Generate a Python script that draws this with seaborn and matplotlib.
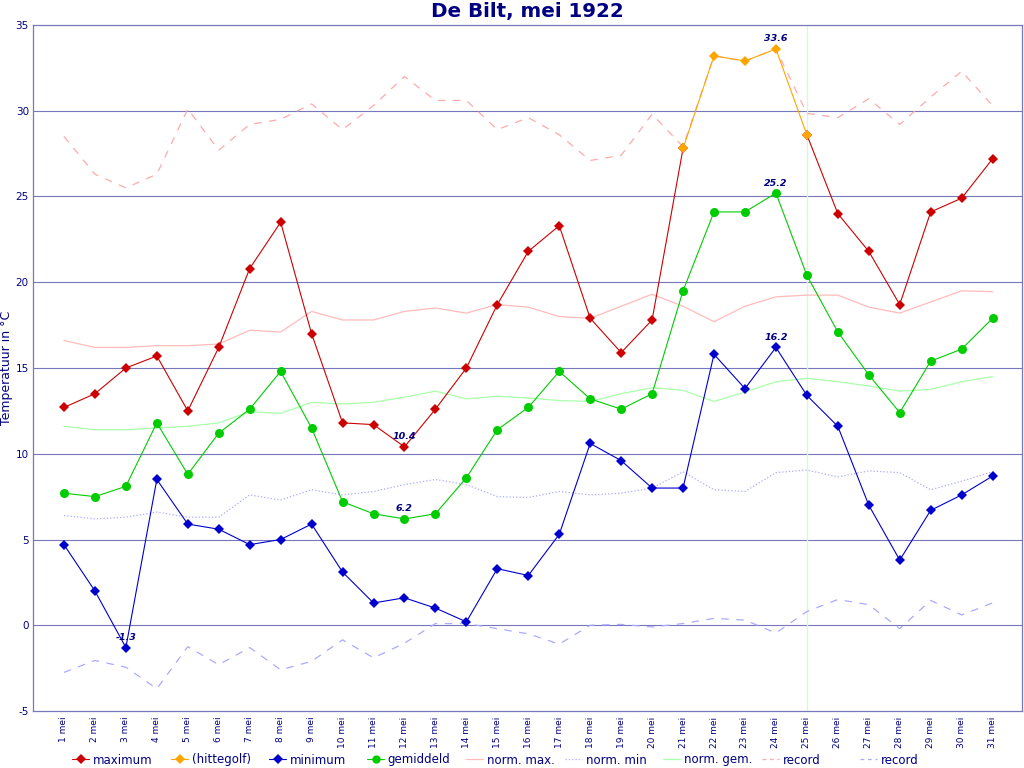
import matplotlib
matplotlib.use("Agg")
import matplotlib.pyplot as plt
from matplotlib.lines import Line2D
import seaborn as sns

# ---------------- data: De Bilt, May 1922 ----------------
days = list(range(1, 32))
day_labels = [f"{d} mei" for d in days]

t_max = [12.7, 13.5, 15.0, 15.7, 12.5, 16.2, 20.8, 23.5, 17.0, 11.8,
         11.7, 10.4, 12.6, 15.0, 18.7, 21.8, 23.3, 17.9, 15.9, 17.8,
         27.8, 33.2, 32.9, 33.6, 28.6, 24.0, 21.8, 18.7, 24.1, 24.9, 27.2]
t_min = [4.7, 2.0, -1.3, 8.5, 5.9, 5.6, 4.7, 5.0, 5.9, 3.1,
         1.3, 1.6, 1.0, 0.2, 3.3, 2.9, 5.3, 10.6, 9.6, 8.0,
         8.0, 15.8, 13.8, 16.2, 13.4, 11.6, 7.0, 3.8, 6.7, 7.6, 8.7]
t_avg = [7.7, 7.5, 8.1, 11.8, 8.8, 11.2, 12.6, 14.8, 11.5, 7.2,
         6.5, 6.2, 6.5, 8.6, 11.4, 12.7, 14.8, 13.2, 12.6, 13.5,
         19.5, 24.1, 24.1, 25.2, 20.4, 17.1, 14.6, 12.4, 15.4, 16.1, 17.9]
hittegolf_days = [21, 22, 23, 24, 25]

norm_max = [16.6, 16.2, 16.2, 16.3, 16.3, 16.4, 17.2, 17.1, 18.3, 17.8,
            17.8, 18.3, 18.5, 18.2, 18.7, 18.55, 18.0, 17.9, 18.6, 19.3,
            18.6, 17.7, 18.6, 19.15, 19.25, 19.25, 18.55, 18.2, 18.85, 19.5, 19.45]
norm_min = [6.4, 6.2, 6.3, 6.6, 6.3, 6.3, 7.6, 7.3, 7.9, 7.6,
            7.8, 8.2, 8.5, 8.2, 7.5, 7.45, 7.8, 7.6, 7.7, 8.0,
            8.95, 7.9, 7.8, 8.9, 9.05, 8.65, 9.0, 8.9, 7.9, 8.4, 8.95]
norm_avg = [11.6, 11.4, 11.4, 11.5, 11.6, 11.8, 12.45, 12.35, 13.0, 12.9,
            13.0, 13.3, 13.65, 13.2, 13.35, 13.25, 13.1, 13.05, 13.5, 13.85,
            13.7, 13.05, 13.6, 14.2, 14.4, 14.2, 13.95, 13.65, 13.75, 14.2, 14.5]
record_max = [28.5, 26.3, 25.5, 26.3, 30.1, 27.7, 29.2, 29.5, 30.4, 28.9,
              30.3, 32.0, 30.6, 30.6, 28.9, 29.6, 28.6, 27.1, 27.4, 29.8,
              27.9, 33.2, 32.9, 33.6, 29.85, 29.6, 30.7, 29.2, 30.8, 32.3, 30.3]
record_min = [-2.75, -2.05, -2.45, -3.7, -1.25, -2.3, -1.3, -2.6, -2.1, -0.85,
              -1.9, -1.05, 0.1, 0.1, -0.2, -0.5, -1.1, 0.0, 0.05, -0.1,
              0.1, 0.4, 0.3, -0.45, 0.8, 1.5, 1.2, -0.2, 1.45, 0.6, 1.3]

# labels for the extremes: (day, value)
extreme_labels = [(24, 33.6), (24, 25.2), (24, 16.2), (12, 10.4), (12, 6.2), (3, -1.3)]

legend_labels = ["maximum", "(hittegolf)", "minimum", "gemiddeld", "norm. max.",
                 "norm. min", "norm. gem.", "record", "record"]

# ---------------- styling ----------------
navy = "#000080"
frame = "#7777bb"
c_max = "#cc0000"
c_hitte = "#ffa500"
c_min = "#0000cc"
c_avg = "#00cc00"
c_nmax = "#ffbbbb"
c_nmin = "#aaaaff"
c_navg = "#aaffaa"
c_rmax = "#ffaaaa"
dash = (0, (6, 6))

sns.set_style("white")
plt.rcParams["font.family"] = ["DejaVu Sans"]

fig = plt.figure(figsize=(10.24, 7.68), dpi=100)
ax = fig.add_axes([33 / 1024, 1 - 711 / 768, 989 / 1024, 686 / 768])

for yv in range(0, 35, 5):
    ax.axhline(yv, color=frame, lw=0.8, zorder=0)
ax.axvline(25, color="#ddf5dd", lw=1, zorder=0)

# norms and records
sns.lineplot(x=days, y=norm_max, color=c_nmax, lw=0.9, ax=ax)
sns.lineplot(x=days, y=norm_min, color=c_nmin, lw=0.9, linestyle=":", ax=ax)
sns.lineplot(x=days, y=norm_avg, color=c_navg, lw=0.9, ax=ax)
sns.lineplot(x=days, y=record_max, color=c_rmax, lw=0.9, linestyle=dash, ax=ax)
sns.lineplot(x=days, y=record_min, color=c_nmin, lw=0.9, linestyle=dash, ax=ax)

# observations
mk = dict(marker="D", markersize=5, markeredgewidth=0, lw=0.8)
h0, h1 = hittegolf_days[0], hittegolf_days[-1]
sns.lineplot(x=days[:h0], y=t_max[:h0], color=c_max, ax=ax, **mk)
sns.lineplot(x=days[h1 - 1:], y=t_max[h1 - 1:], color=c_max, ax=ax, **mk)
sns.lineplot(x=hittegolf_days, y=t_max[h0 - 1:h1], color=c_hitte, ax=ax, **mk)
sns.lineplot(x=days, y=t_min, color=c_min, ax=ax, **mk)
sns.lineplot(x=days, y=t_avg, color=c_avg, marker="o", markersize=6.5,
             markeredgewidth=0, lw=0.8, ax=ax)

for d, v in extreme_labels:
    ax.annotate(f"{v:.1f}", (d, v), xytext=(0, 4), textcoords="offset points",
                ha="center", va="bottom", fontsize=6.8, fontweight="bold",
                fontstyle="italic", color=navy)

ax.set_xlim(0, 31.95)
ax.set_ylim(-5, 35)
ax.set_xticks(days)
ax.set_xticklabels(day_labels, rotation=90, fontsize=6.5, color=navy)
ax.set_yticks(range(-5, 36, 5))
ax.set_yticklabels([str(v) for v in range(-5, 36, 5)], fontsize=7.5, color=navy)
ax.tick_params(axis="x", length=3, color=frame, pad=1)
ax.tick_params(axis="y", length=0, pad=3)
for s in ax.spines.values():
    s.set_color(frame)
    s.set_linewidth(0.9)
ax.set_xlabel("")
ax.set_ylabel("Temperatuur in °C", fontsize=9, color=navy, va="center")
ax.yaxis.set_label_coords((6.5 - 33) / 989, 0.5)
fig.text(527.5 / 1024, 1 - 11 / 768, "De Bilt, mei 1922", ha="center", va="center",
         fontsize=14.3, fontweight="bold", color=navy)

# legend: one entry per slot, spaced like the reference
handles = [
    Line2D([], [], color=c_max, marker="D", markersize=5, markeredgewidth=0, lw=0.8),
    Line2D([], [], color=c_hitte, marker="D", markersize=5, markeredgewidth=0, lw=0.8),
    Line2D([], [], color=c_min, marker="D", markersize=5, markeredgewidth=0, lw=0.8),
    Line2D([], [], color=c_avg, marker="o", markersize=6, markeredgewidth=0, lw=0.8),
    Line2D([], [], color=c_nmax, lw=0.9),
    Line2D([], [], color=c_nmin, lw=0.9, linestyle=":"),
    Line2D([], [], color=c_navg, lw=0.9),
    Line2D([], [], color=c_rmax, lw=0.9, linestyle=(0, (3, 3))),
    Line2D([], [], color=c_nmin, lw=0.9, linestyle=(0, (3, 3))),
]
slot_x = [72, 171, 269, 367, 466, 565, 663, 762, 860]
for h, lab, xp in zip(handles, legend_labels, slot_x):
    leg = fig.legend([h], [lab], loc="center left",
                     bbox_to_anchor=(xp / 1024, 1 - 760 / 768),
                     frameon=False, fontsize=8.5, handlelength=1.45,
                     handletextpad=0.3, borderpad=0, borderaxespad=0)
    for t in leg.get_texts():
        t.set_color(navy)

fig.savefig("out.png", dpi=100)
